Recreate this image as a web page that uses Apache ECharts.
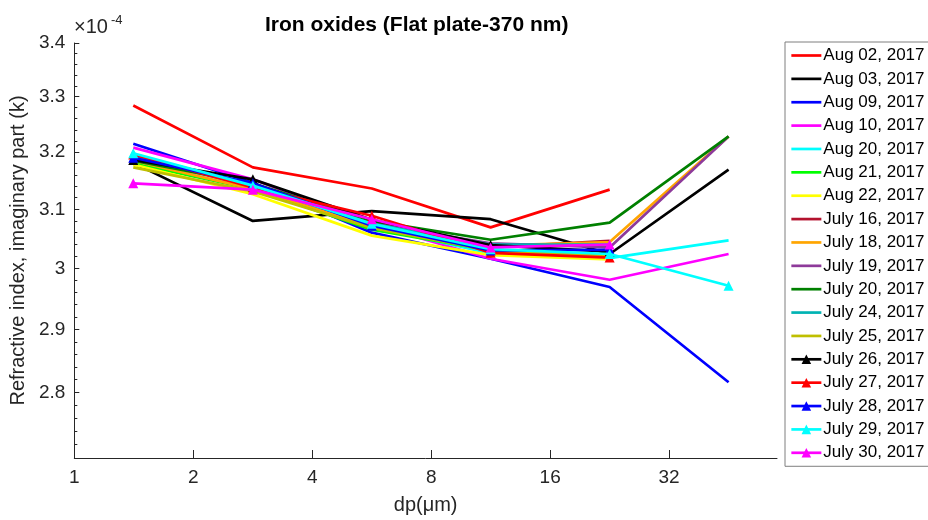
<!DOCTYPE html>
<html>
<head>
<meta charset="utf-8">
<script src="https://cdn.jsdelivr.net/npm/echarts@6/dist/echarts.min.js"></script>
<style>html,body{margin:0;padding:0;background:#fff}#c{width:928px;height:520px}</style>
</head>
<body>
<div id="c"></div>
<script>
// particle diameter (µm), log2-spaced bins
const dp = [1.41, 2.83, 5.66, 11.31, 22.63, 45.25];
const xTickLabels = [1, 2, 4, 8, 16, 32];
const yTickLabels = [2.8, 2.9, 3.0, 3.1, 3.2, 3.3, 3.4];
const yMinorTicks = [2.72, 2.74, 2.76, 2.78, 2.82, 2.84, 2.86, 2.88, 2.92, 2.94, 2.96, 2.98, 3.02, 3.04, 3.06, 3.08, 3.12, 3.14, 3.16, 3.18, 3.22, 3.24, 3.26, 3.28, 3.32, 3.34, 3.36, 3.38];

// imaginary refractive index k, in units of 1e-4
const names = ['Aug 02, 2017','Aug 03, 2017','Aug 09, 2017','Aug 10, 2017','Aug 20, 2017','Aug 21, 2017','Aug 22, 2017','July 16, 2017','July 18, 2017','July 19, 2017','July 20, 2017','July 24, 2017','July 25, 2017','July 26, 2017','July 27, 2017','July 28, 2017','July 29, 2017','July 30, 2017'];
const aug02 = [3.284, 3.173, 3.136, 3.069, 3.134];
const aug03 = [3.181, 3.080, 3.097, 3.083, 3.024, 3.169];
const aug09 = [3.215, 3.146, 3.060, 3.016, 2.969, 2.816];
const aug10 = [3.208, 3.152, 3.075, 3.016, 2.981, 3.024];
const aug20 = [3.196, 3.140, 3.070, 3.025, 3.017, 3.047];
const aug21 = [3.180, 3.135, 3.065, 3.030, 3.020];
const aug22 = [3.178, 3.126, 3.055, 3.022, 3.015];
const jul16 = [3.195, 3.140, 3.078, 3.035, 3.046];
const jul18 = [3.185, 3.135, 3.072, 3.038, 3.044, 3.228];
const jul19 = [3.190, 3.140, 3.075, 3.042, 3.035, 3.228];
const jul20 = [3.185, 3.145, 3.080, 3.048, 3.077, 3.228];
const jul24 = [3.195, 3.143, 3.075, 3.040, 3.040];
const jul25 = [3.173, 3.131, 3.068, 3.030, 3.020];
const jul26 = [3.186, 3.152, 3.082, 3.039, 3.028];
const jul27 = [3.196, 3.138, 3.089, 3.026, 3.018];
const jul28 = [3.190, 3.145, 3.072, 3.030, 3.031];
const jul29 = [3.198, 3.141, 3.075, 3.032, 3.024, 2.971];
const jul30 = [3.145, 3.134, 3.083, 3.035, 3.040];

const values = [aug02, aug03, aug09, aug10, aug20, aug21, aug22, jul16, jul18, jul19, jul20, jul24, jul25, jul26, jul27, jul28, jul29, jul30];
const colors = ['#FF0000','#000000','#0000FF','#FF00FF','#00FFFF','#00FF00','#FFFF00','#B3122E','#FFA500','#8E3A9A','#008000','#00B3B3','#BFBF00','#000000','#FF0000','#0000FF','#00FFFF','#FF00FF'];
const hasMarker = [0,0,0,0,0,0,0,0,0,0,0,0,0,1,1,1,1,1];

const FONT = 'Liberation Sans, Arial, Helvetica, sans-serif';
const AX = '#262626';

const series = names.map((n, i) => ({
  name: n,
  type: 'line',
  data: values[i].map((v, j) => [dp[j], v]),
  color: colors[i],
  lineStyle: { width: 2.7, color: colors[i] },
  symbol: hasMarker[i] ? 'triangle' : 'none',
  showSymbol: !!hasMarker[i],
  symbolSize: 10,
  itemStyle: { color: colors[i] },
  animation: false,
  z: 2 + i / 100
}));

const legendData = names.map((n, i) => hasMarker[i]
  ? { name: n }
  : { name: n, itemStyle: { opacity: 0, color: 'rgba(0,0,0,0)', borderWidth: 0 } });

const chart = echarts.init(document.getElementById('c'), null, { renderer: 'canvas' });
chart.setOption({
  backgroundColor: '#fff',
  animation: false,
  title: {
    text: 'Iron oxides (Flat plate-370 nm)',
    left: 260, top: 10,
    textStyle: { fontFamily: FONT, fontSize: 21, fontWeight: 'bold', color: '#000' }
  },
  legend: {
    orient: 'vertical',
    left: 785, top: 42,
    padding: [5, 5, 5, 5],
    itemWidth: 30, itemHeight: 12, itemGap: 6.37,
    borderColor: '#7f7f7f', borderWidth: 1,
    backgroundColor: '#fff',
    lineStyle: { width: 2.7 },
    textStyle: { fontFamily: FONT, fontSize: 17, color: '#000', padding: [0, 0, 0, -3], lineHeight: 17, height: 17 },
    data: legendData
  },
  grid: { left: 72, top: 43, right: 151, bottom: 60, containLabel: false },
  xAxis: {
    type: 'log', logBase: 2, min: 1, max: 60,
    name: 'dp(μm)', nameLocation: 'middle', nameGap: 37,
    nameTextStyle: { fontFamily: FONT, fontSize: 20, color: AX },
    axisLine: { show: true, lineStyle: { color: AX, width: 1 } },
    axisTick: { show: true, inside: true, length: 8, lineStyle: { color: AX }, customValues: [2, 4, 8, 16, 32] },
    axisLabel: { show: true, customValues: xTickLabels, margin: 10, fontFamily: FONT, fontSize: 19, color: AX, formatter: v => String(Math.round(v)) },
    splitLine: { show: false },
    minorTick: { show: false }
  },
  yAxis: [{
    type: 'log', logBase: 10, min: 2.7, max: 3.4,
    name: 'Refractive index, imaginary part (k)', nameLocation: 'middle', nameGap: 38,
    nameTextStyle: { fontFamily: FONT, fontSize: 20, color: AX },
    axisLine: { show: true, lineStyle: { color: AX, width: 1 } },
    axisTick: { show: true, inside: true, length: 5, lineStyle: { color: AX }, customValues: yTickLabels },
    axisLabel: { show: true, customValues: yTickLabels, margin: 9, fontFamily: FONT, fontSize: 19, color: AX, formatter: v => String(+(+v).toFixed(1)) },
    splitLine: { show: false }
  }, {
    type: 'log', logBase: 10, min: 2.7, max: 3.4, position: 'left',
    axisLine: { show: false },
    axisTick: { show: true, inside: true, length: 3, lineStyle: { color: AX }, customValues: yMinorTicks },
    axisLabel: { show: false },
    splitLine: { show: false }
  }],
  graphic: [
    { type: 'text', left: 74, top: 17, style: { text: '×10', fontFamily: FONT, fontSize: 20, fill: AX } },
    { type: 'text', left: 111, top: 14, style: { text: '-4', fontFamily: FONT, fontSize: 13, fill: AX } }
  ],
  series: series
});
</script>
</body>
</html>
